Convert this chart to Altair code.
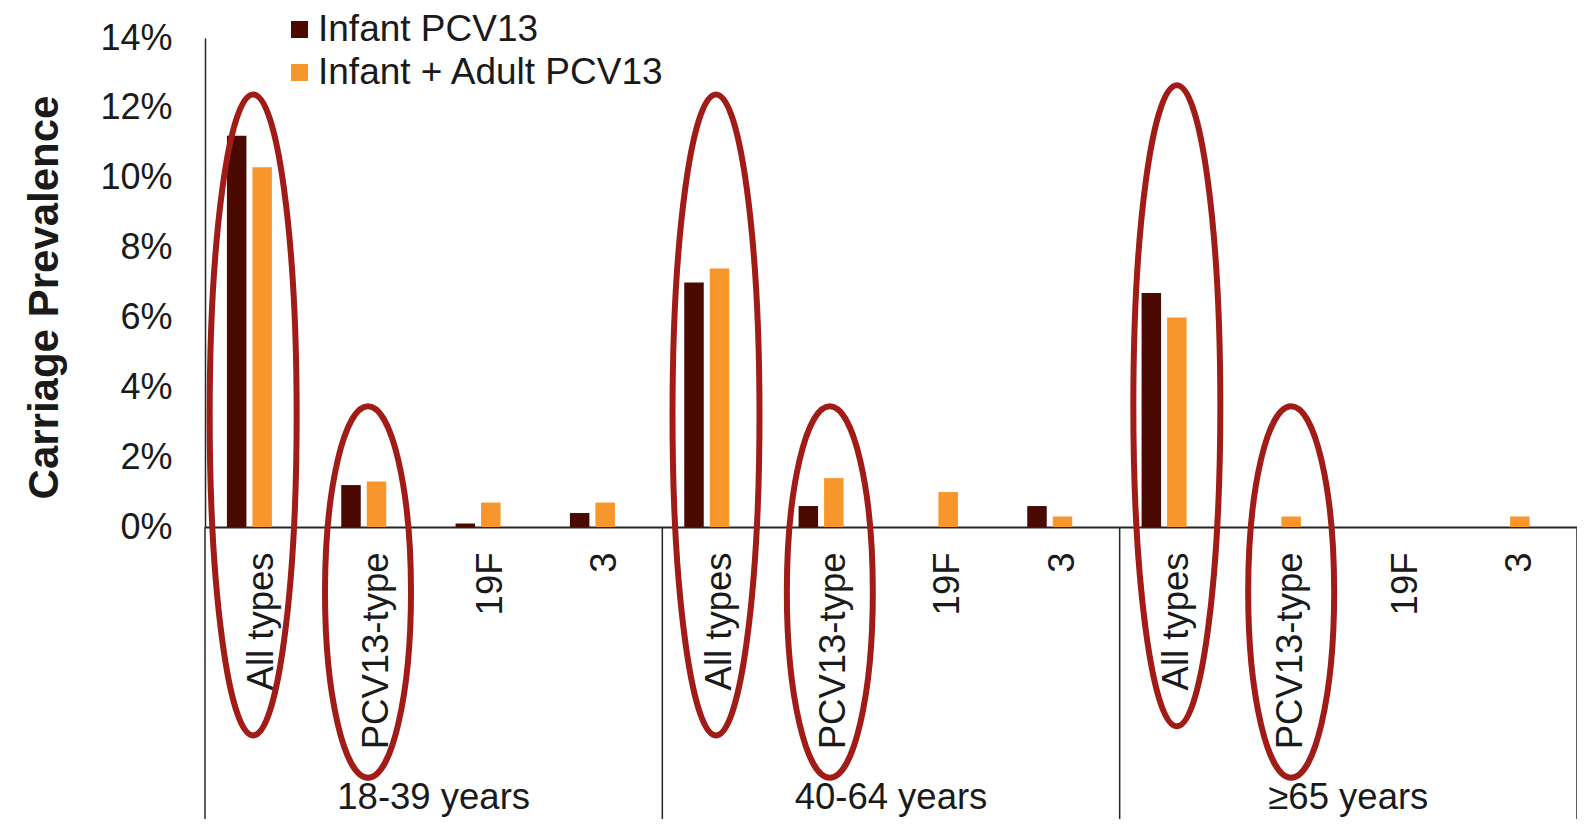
import altair as alt
import pandas as pd

# ---------------- data ----------------
groups = ["18-39 years", "40-64 years", "≥65 years"]
categories = ["All types", "PCV13-type", "19F", "3"]
series = ["Infant PCV13", "Infant + Adult PCV13"]

# carriage prevalence (%), order: group x category
infant_pcv13 = [11.2, 1.2, 0.1, 0.4,
                7.0, 0.6, 0.0, 0.6,
                6.7, 0.0, 0.0, 0.0]
infant_adult_pcv13 = [10.3, 1.3, 0.7, 0.7,
                      7.4, 1.4, 1.0, 0.3,
                      6.0, 0.3, 0.0, 0.3]

y_ticks_pct = [0, 2, 4, 6, 8, 10, 12, 14]

# circled (highlighted) categories: vertical centre (%) and hand-drawn nudge (px)
ring_all_center = [3.21, 3.21, 3.47]
ring_pcv_center = [-1.86, -1.86, -1.86]
ring_all_dx = [-9, -3.5, 0]
ring_pcv_dx = [-8.5, -4, 0]

# ---------------- layout constants ----------------
W, H = 1372, 489
SLOT = W / len(groups) / len(categories)
AXIS_BOTTOM_PX = 781      # group separator lines end (px from plot top)
GROUP_LABEL_PX = 771      # group label baseline (px from plot top)

# ---------------- tables ----------------
keys = [f"{g}|{c}" for g in groups for c in categories]
rows = []
for i, k in enumerate(keys):
    rows.append({"key": k, "series": series[0], "value": infant_pcv13[i] / 100})
    rows.append({"key": k, "series": series[1], "value": infant_adult_pcv13[i] / 100})
bar_df = pd.DataFrame(rows)

ring_a_df = pd.DataFrame({
    "key": [f"{g}|All types" for g in groups],
    "yc": [v / 100 for v in ring_all_center],
    "dx": [d + SLOT / 2 for d in ring_all_dx],
})
ring_p_df = pd.DataFrame({
    "key": [f"{g}|PCV13-type" for g in groups],
    "yc": [v / 100 for v in ring_pcv_center],
    "dx": [d + SLOT / 2 for d in ring_pcv_dx],
})
sep_start_df = pd.DataFrame({"key": [f"{g}|{categories[0]}" for g in groups]})
sep_end_df = pd.DataFrame({"key": [f"{groups[-1]}|{categories[-1]}"]})
group_lab_df = pd.DataFrame({"key": [f"{g}|{categories[1]}" for g in groups], "label": groups})

# ---------------- style ----------------
FONT = "Liberation Sans"
DARK = "#4A0A02"
ORANGE = "#F7962B"
RING = "#A11B17"
AXIS = "#262626"
TEXT = "#1A1A1A"

PATH_A = "M0,-1 A0.1357,1 0 1,1 0,1 A0.1357,1 0 1,1 0,-1 Z"
PATH_P = "M0,-1 A0.2314,1 0 1,1 0,1 A0.2314,1 0 1,1 0,-1 Z"

x_scale = alt.Scale(type="band", domain=keys, paddingInner=0, paddingOuter=0)
y_scale = alt.Scale(domain=[0, 0.14], nice=False, zero=True)

x_axis = alt.Axis(orient="bottom", title=None, labelExpr="split(datum.label, '|')[1]",
                  labelAngle=270, labelFontSize=36.5, labelFont=FONT, labelColor=TEXT,
                  labelPadding=25, ticks=False, labelLimit=0,
                  domain=True, domainColor=AXIS, domainWidth=2, grid=False,
                  labelOverlap=False)
y_axis = alt.Axis(values=[v / 100 for v in y_ticks_pct], format=".0%",
                  labelFontSize=36, labelFont=FONT, labelColor=TEXT,
                  ticks=False, labelPadding=33,
                  domainColor=AXIS, domainWidth=1.5, grid=False,
                  title="Carriage Prevalence", titleFontSize=42, titleFont=FONT,
                  titleFontWeight="bold", titleColor=TEXT, titleAngle=270,
                  titleX=-148, titleY=259, titleAlign="center",
                  titleBaseline="alphabetic")

bars = alt.Chart(bar_df).mark_bar().encode(
    x=alt.X("key:N", sort=keys, scale=x_scale, axis=x_axis),
    xOffset=alt.XOffset("series:N",
                        scale=alt.Scale(domain=series + ["(spacer)"],
                                        paddingInner=0.2353, paddingOuter=0.8595)),
    y=alt.Y("value:Q", scale=y_scale, axis=y_axis),
    color=alt.Color("series:N", scale=alt.Scale(domain=series, range=[DARK, ORANGE]),
                    legend=alt.Legend(orient="none", legendX=76, legendY=-27, title=None,
                                      symbolType="square", symbolSize=289,
                                      symbolStrokeWidth=0, labelFontSize=37,
                                      labelFont=FONT, labelColor=TEXT, labelLimit=0,
                                      rowPadding=5, labelOffset=0, padding=0)),
)

def ring_layer(df, path, size):
    return alt.Chart(df).mark_point(
        shape=path, size=size, filled=False, stroke=RING, strokeWidth=6, opacity=1
    ).encode(
        x=alt.X("key:N", sort=keys, scale=x_scale, axis=x_axis),
        xOffset=alt.XOffset("dx:Q", scale=None),
        y=alt.Y("yc:Q", scale=y_scale, axis=y_axis),
    )

rings_a = ring_layer(ring_a_df, PATH_A, 410881)
rings_p = ring_layer(ring_p_df, PATH_P, 138086)

sep_start = alt.Chart(sep_start_df).mark_rule(color=AXIS, strokeWidth=1.5).encode(
    x=alt.X("key:N", sort=keys, scale=x_scale, axis=x_axis, bandPosition=0),
    y=alt.datum(0),
    y2=alt.value(AXIS_BOTTOM_PX),
)
sep_end = alt.Chart(sep_end_df).mark_rule(color=AXIS, strokeWidth=1.5).encode(
    x=alt.X("key:N", sort=keys, scale=x_scale, axis=x_axis, bandPosition=1),
    y=alt.datum(0),
    y2=alt.value(AXIS_BOTTOM_PX),
)

group_labels = alt.Chart(group_lab_df).mark_text(
    font=FONT, fontSize=36.5, color=TEXT, baseline="alphabetic", align="center"
).encode(
    x=alt.X("key:N", sort=keys, scale=x_scale, axis=x_axis, bandPosition=1),
    y=alt.value(GROUP_LABEL_PX),
    text="label:N",
)

chart = alt.layer(bars, rings_a, rings_p, sep_start, sep_end, group_labels).properties(
    width=W, height=H,
    autosize=alt.AutoSizeParams(type="none"),
    padding={"left": 197, "top": 30, "right": 0, "bottom": 292},
    background="white",
).configure_view(stroke=None)

chart.save("out.html", embed_options={"renderer": "svg", "actions": False})
